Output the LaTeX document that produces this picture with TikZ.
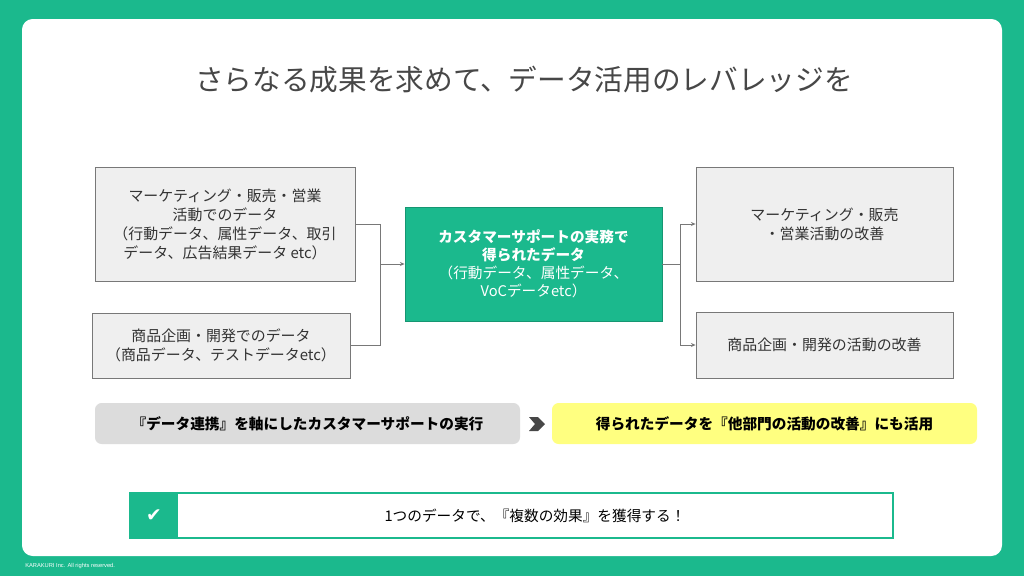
\documentclass[tikz,border=0pt]{standalone}
\usepackage{fontspec}
\setmainfont{Noto Sans CJK JP}
\newfontfamily\symfont{DejaVu Sans}
\newfontfamily\footfont{Liberation Sans}
\usetikzlibrary{arrows.meta}
\definecolor{kgreen}{RGB}{27,185,141}
\definecolor{kdark}{RGB}{22,150,114}
\definecolor{boxgray}{RGB}{239,239,239}
\definecolor{linegray}{RGB}{120,120,120}
\definecolor{bargray}{RGB}{220,220,220}
\definecolor{baryellow}{RGB}{255,255,128}
\definecolor{textgray}{RGB}{51,51,51}
\begin{document}
\begin{tikzpicture}[x=0.75pt,y=-0.75pt,
  databox/.style={draw=linegray,line width=0.6pt,fill=boxgray,text=textgray,align=center,
    font=\fontsize{11.2}{14.25}\selectfont,inner sep=0pt},
  mainbox/.style={draw=kdark,line width=0.6pt,fill=kgreen,text=white,align=center,
    font=\fontsize{11}{13.5}\selectfont,inner sep=0pt},
  stepbar/.style={rounded corners=5pt,minimum width=318.75pt,minimum height=30.75pt,
    text=black,font=\fontsize{11}{13}\selectfont\bfseries,inner sep=0pt},
  conn/.style={draw=linegray,line width=0.75pt},
  tip/.style={-{Stealth[length=3.5pt,width=3pt]}}]
\useasboundingbox (0,0) rectangle (1024,576);
\fill[kgreen] (0,0) rectangle (1024,576);
\fill[white,rounded corners=8pt] (22,19) rectangle (1002,556);
\node[text=textgray!90!white,font=\fontsize{21.5}{25}\selectfont] (title) at (524,80)
  {さらなる成果を求めて、データ活用のレバレッジを};
\node[databox,minimum width=195pt,minimum height=85.5pt] (lb1) at (225,224)
  {マーケティング・販売・営業\\活動でのデータ\\（行動データ、属性データ、取引\\データ、広告結果データ etc）};
\node[databox,minimum width=193.5pt,minimum height=48.75pt] (lb2) at (221,345.5)
  {商品企画・開発でのデータ\\（商品データ、テストデータetc）};
\node[mainbox,minimum width=192.75pt,minimum height=85.5pt] (cb) at (533.5,264)
  {\textbf{カスタマーサポートの実務で}\\\textbf{得られたデータ}\\（行動データ、属性データ、\\VoCデータetc）};
\node[databox,minimum width=192.75pt,minimum height=85.5pt] (rb1) at (824.5,224)
  {マーケティング・販売\\・営業活動の改善};
\node[databox,minimum width=192.75pt,minimum height=49.5pt] (rb2) at (824.5,345)
  {商品企画・開発の活動の改善};
\coordinate (jl) at (380,264);
\coordinate (jr) at (680,264);
\draw[conn] (lb1.east) -| (jl);
\draw[conn] (lb2.east) -| (jl);
\draw[conn,tip] (jl) -- (cb.west);
\draw[conn] (cb.east) -- (jr);
\draw[conn,tip] (jr) |- (rb1.west);
\draw[conn,tip] (jr) |- (rb2.west);
\node[stepbar,fill=bargray] (bar1) at (307.5,423.5)
  {『データ連携』を軸にしたカスタマーサポートの実行};
\node[stepbar,fill=baryellow] (bar2) at (764.5,423.5)
  {得られたデータを『他部門の活動の改善』にも活用};
\fill[textgray!90!white] (529,417) -- (538,417) -- (545,424) -- (538,431) -- (529,431) -- (535,424) -- cycle;
\node[draw=kgreen,line width=1.5pt,fill=white,minimum width=572.25pt,minimum height=33.75pt,inner sep=0pt] (banner) at (511.5,515.5) {};
\node[fill=kgreen,minimum width=36pt,minimum height=33.75pt,inner sep=0pt,text=white,font=\symfont\fontsize{14}{16}\selectfont] (chk) at (154,515.5) {✔};
\node[text=black,font=\fontsize{11}{13}\selectfont] (goal) at (535,516)
  {1つのデータで、『複数の効果』を獲得する！};
\node[anchor=west,text=white,font=\footfont\fontsize{4.3}{5}\selectfont,inner sep=0pt] (foot) at (25,566)
  {KARAKURI Inc. All rights reserved.};
\end{tikzpicture}
\end{document}
